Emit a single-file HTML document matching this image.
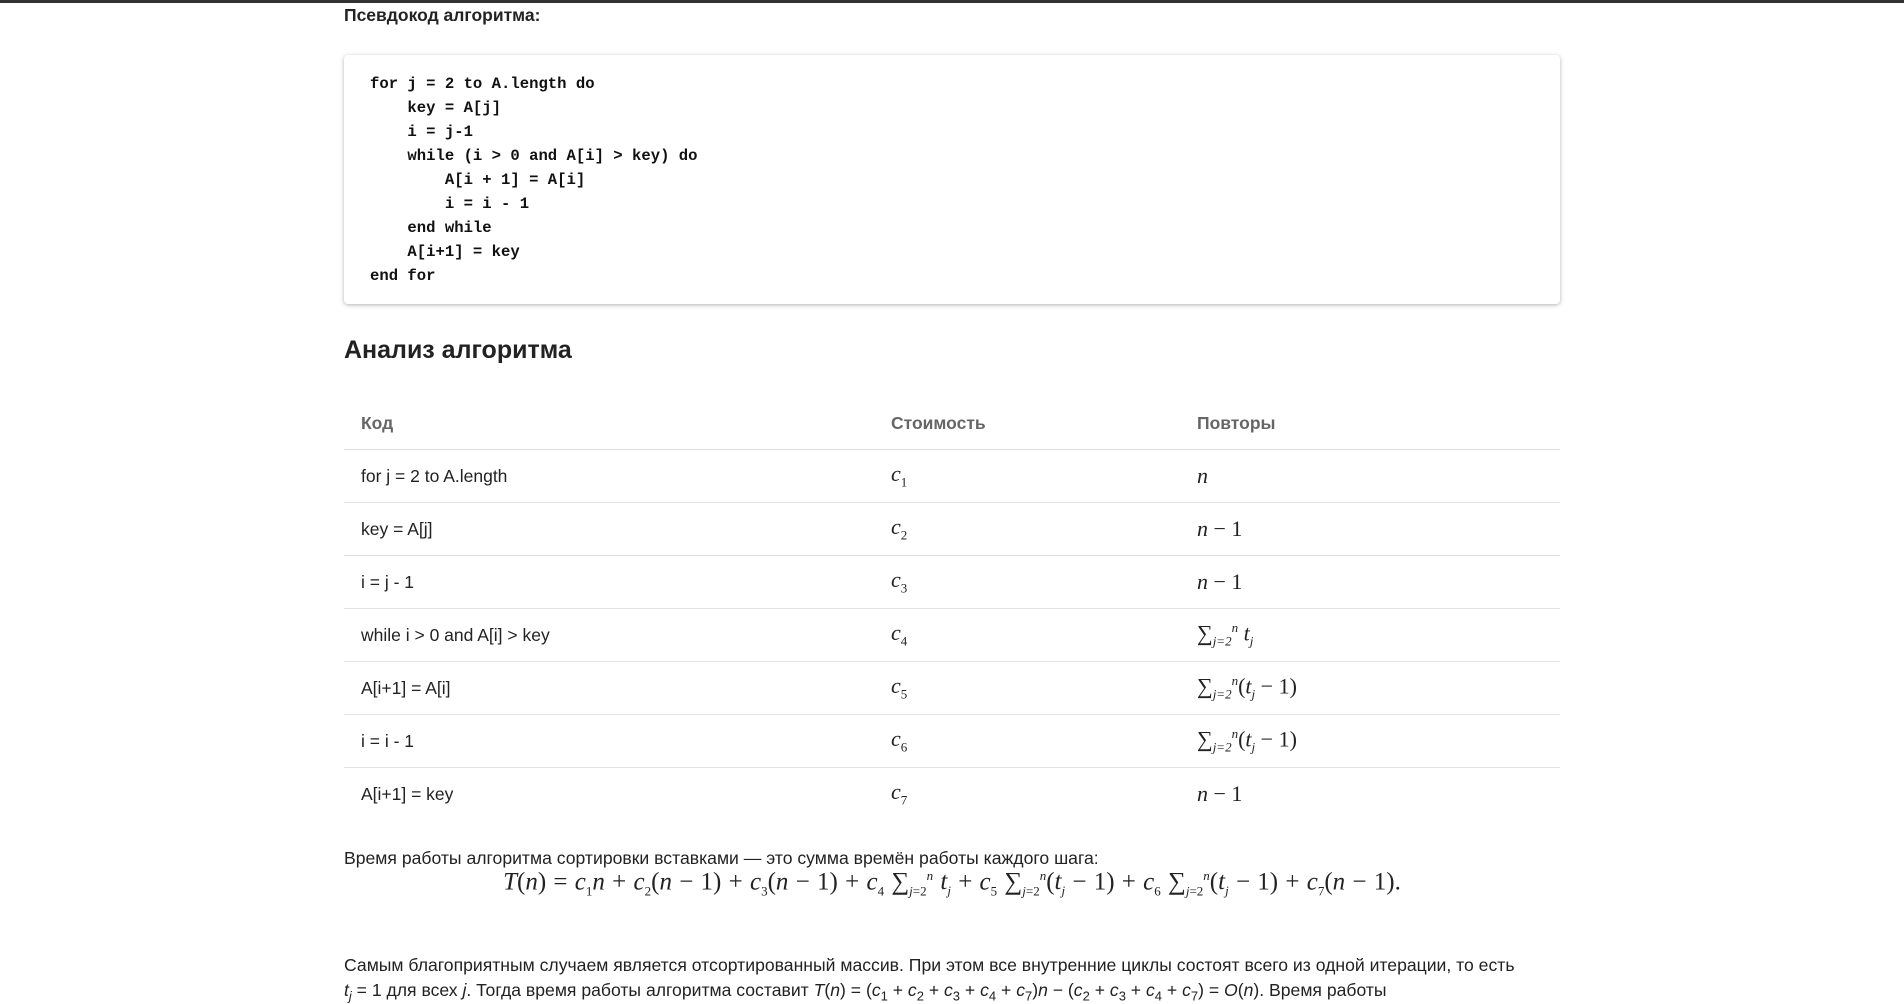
<!DOCTYPE html>
<html><head><meta charset="utf-8"><style>
body{margin:0;width:1904px;height:989px;overflow:hidden;background:#fff;font-family:"Liberation Sans",sans-serif;color:#222;position:relative}
.topbar{position:absolute;left:0;top:0;width:1904px;height:3px;background:#333}
h4{position:absolute;left:344px;top:5px;margin:0;font-size:17.5px;font-weight:bold}
.code{position:absolute;left:344px;top:55px;width:1216px;height:249px;background:#fff;border-radius:4px;box-shadow:0 1px 4px rgba(0,0,0,.3)}
.code pre{margin:0;position:absolute;left:26px;top:17px;font-family:"Liberation Mono",monospace;font-weight:bold;font-size:15.6px;line-height:24px;color:#111}
h2{position:absolute;left:344px;top:336px;margin:0;font-size:25px;font-weight:bold;color:#222}
table{position:absolute;left:344px;top:398px;width:1216px;border-collapse:collapse;font-size:17.5px}
th{text-align:left;color:#666;font-weight:bold;height:51px;padding:0 0 0 17px;border-bottom:1px solid #ddd}
td{height:52px;padding:0 0 0 17px;border-bottom:1px solid #e2e2e2}
tr:last-child td{border-bottom:none}
.m{font-family:"Liberation Serif",serif;font-style:italic;font-size:22px}
.r{font-style:normal}
sub,sup{font-size:13px}
.p{position:absolute;left:344px;font-size:17.6px;color:#222;white-space:nowrap}
.f{position:absolute;left:0;width:1904px;text-align:center;top:868px;font-family:"Liberation Serif",serif;font-size:25px;word-spacing:1px}
</style></head><body>
<div class="topbar"></div>
<h4>Псевдокод алгоритма:</h4>
<div class="code"><pre>for j = 2 to A.length do
    key = A[j]
    i = j-1
    while (i &gt; 0 and A[i] &gt; key) do
        A[i + 1] = A[i]
        i = i - 1
    end while
    A[i+1] = key
end for</pre></div>
<h2>Анализ алгоритма</h2>
<table>
<tr><th style="width:513px">Код</th><th style="width:289px">Стоимость</th><th>Повторы</th></tr>
<tr><td>for j = 2 to A.length</td><td class="m">c<sub class="r">1</sub></td><td class="m">n</td></tr>
<tr><td>key = A[j]</td><td class="m">c<sub class="r">2</sub></td><td class="m">n <span class="r">− 1</span></td></tr>
<tr><td>i = j - 1</td><td class="m">c<sub class="r">3</sub></td><td class="m">n <span class="r">− 1</span></td></tr>
<tr><td>while i &gt; 0 and A[i] &gt; key</td><td class="m">c<sub class="r">4</sub></td><td class="m"><span class="r">∑</span><sub>j=2</sub><sup>n</sup> t<sub>j</sub></td></tr>
<tr><td>A[i+1] = A[i]</td><td class="m">c<sub class="r">5</sub></td><td class="m"><span class="r">∑</span><sub>j=2</sub><sup>n</sup><span class="r">(</span>t<sub>j</sub> <span class="r">− 1)</span></td></tr>
<tr><td>i = i - 1</td><td class="m">c<sub class="r">6</sub></td><td class="m"><span class="r">∑</span><sub>j=2</sub><sup>n</sup><span class="r">(</span>t<sub>j</sub> <span class="r">− 1)</span></td></tr>
<tr><td>A[i+1] = key</td><td class="m">c<sub class="r">7</sub></td><td class="m">n <span class="r">− 1</span></td></tr>
</table>
<div class="p" style="top:848px">Время работы алгоритма сортировки вставками — это сумма времён работы каждого шага:</div>
<div class="f"><i>T</i>(<i>n</i>) = <i>c</i><sub>1</sub><i>n</i> + <i>c</i><sub>2</sub>(<i>n</i> − 1) + <i>c</i><sub>3</sub>(<i>n</i> − 1) + <i>c</i><sub>4</sub> ∑<sub><i>j</i>=2</sub><sup><i>n</i></sup> <i>t<sub>j</sub></i> + <i>c</i><sub>5</sub> ∑<sub><i>j</i>=2</sub><sup><i>n</i></sup>(<i>t<sub>j</sub></i> − 1) + <i>c</i><sub>6</sub> ∑<sub><i>j</i>=2</sub><sup><i>n</i></sup>(<i>t<sub>j</sub></i> − 1) + <i>c</i><sub>7</sub>(<i>n</i> − 1).</div>
<div class="p" style="top:955px">Самым благоприятным случаем является отсортированный массив. При этом все внутренние циклы состоят всего из одной итерации, то есть</div>
<div class="p" style="top:980px"><i>t<sub>j</sub></i> = 1 для всех <i>j</i>. Тогда время работы алгоритма составит <i>T</i>(<i>n</i>) = (<i>c</i><sub>1</sub> + <i>c</i><sub>2</sub> + <i>c</i><sub>3</sub> + <i>c</i><sub>4</sub> + <i>c</i><sub>7</sub>)<i>n</i> − (<i>c</i><sub>2</sub> + <i>c</i><sub>3</sub> + <i>c</i><sub>4</sub> + <i>c</i><sub>7</sub>) = <i>O</i>(<i>n</i>). Время работы</div>
</body></html>
